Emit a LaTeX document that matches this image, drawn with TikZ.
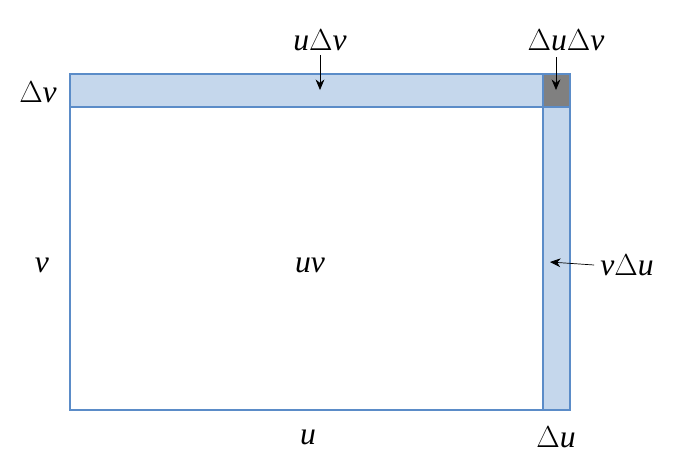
\documentclass[tikz,border=0pt]{standalone}
\usepackage{fontspec}
\setmainfont{Liberation Serif}
\usetikzlibrary{arrows.meta}
\definecolor{stripfill}{HTML}{C5D7EC}
\definecolor{stripline}{HTML}{5B8CC8}
\begin{document}
\begin{tikzpicture}[x=0.02cm,y=-0.02cm,
    lbl/.style={font=\fontsize{18}{20}\selectfont\itshape},
    pointer/.style={-{Stealth[length=6pt,width=5pt]},thin}]
    \useasboundingbox (0,0) rectangle (687,461);
    % Area pieces
    \draw[stripline,thick] (70,107) rectangle (543,410);
    \draw[stripline,thick,fill=stripfill] (70,74) rectangle (543,107);
    \draw[stripline,thick,fill=stripfill] (543,107) rectangle (570,410);
    \draw[stripline,thick,fill=gray] (543,74) rectangle (570,107);

    % Labels
    \node[lbl] (udv) at (320,40) {u$\Delta$v};
    \node[lbl] (dudv) at (566,40) {$\Delta$u$\Delta$v};
    \node[lbl] (dv) at (38,92) {$\Delta$v};
    \node[lbl] (v) at (42,265) {v};
    \node[lbl] (uv) at (310,265) {uv};
    \node[lbl] (vdu) at (627,265) {v$\Delta$u};
    \node[lbl] (u) at (308,437) {u};
    \node[lbl] (du) at (556,437) {$\Delta$u};

    % Pointers
    \coordinate (udvtip) at (320,90);
    \coordinate (dudvtip) at (556,90);
    \coordinate (vdutip) at (550,262);
    \draw[pointer] (udv.south) ++(0,-2) -- (udvtip);
    \draw[pointer] (556,57) -- (dudvtip);
    \draw[pointer] (vdu.west) -- (vdutip);
\end{tikzpicture}
\end{document}
